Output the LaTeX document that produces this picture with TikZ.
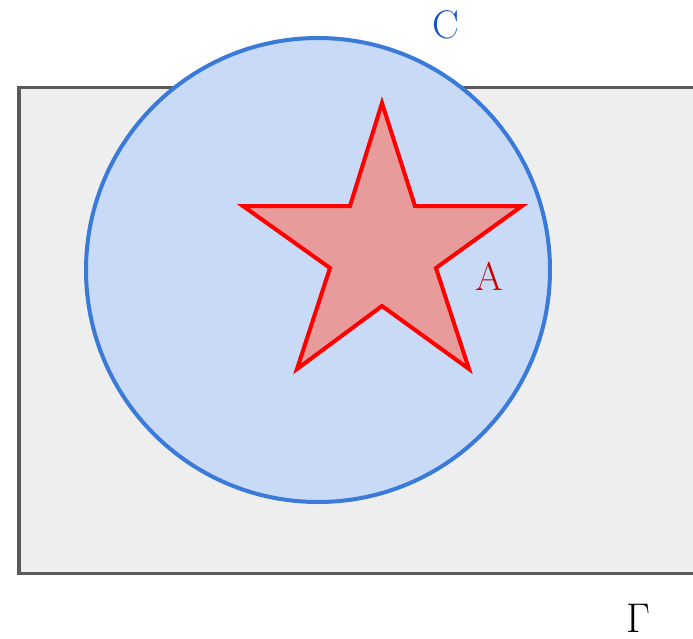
\documentclass[tikz,border=0pt]{standalone}
\usepackage{tikz}
\usetikzlibrary{positioning}
\definecolor{setfill}{RGB}{238,238,238}
\definecolor{setedge}{RGB}{90,90,90}
\definecolor{circfill}{RGB}{200,218,245}
\definecolor{circedge}{RGB}{58,122,216}
\definecolor{starfill}{RGB}{232,155,155}
\definecolor{staredge}{RGB}{255,0,0}
\definecolor{clabel}{RGB}{20,80,200}
\definecolor{alabel}{RGB}{200,0,0}

\begin{document}
\begin{tikzpicture}[x=0.5pt, y=-0.5pt, font=\fontsize{20}{24}\selectfont,
  universe/.style={fill=setfill, draw=setedge, line width=1.5pt},
  disc/.style={fill=circfill, draw=circedge, line width=2pt},
  starset/.style={fill=starfill, draw=staredge, line width=2pt, line join=miter},
  lbl/.style={inner sep=0pt}]
\useasboundingbox (0,0) rectangle (693,639);
\clip (0,0) rectangle (693,639);
% universe
\draw[universe] (19,87) rectangle (710,573);
% circle C
\draw[disc] (318,270) circle[radius=232];
% star A
\draw[starset] (382,103) -- (415,206) -- (522,206) -- (436,268) -- (469,369)
  -- (382,306) -- (297,369) -- (330,268) -- (243,206) -- (350,206) -- cycle;
% labels
\node[lbl, text=clabel] (lc) at (446,25) {C};
\node[lbl, text=alabel] (la) at (489,276) {A};
\node[lbl] (lg) at (638,618) {$\Gamma$};
\end{tikzpicture}
\end{document}
